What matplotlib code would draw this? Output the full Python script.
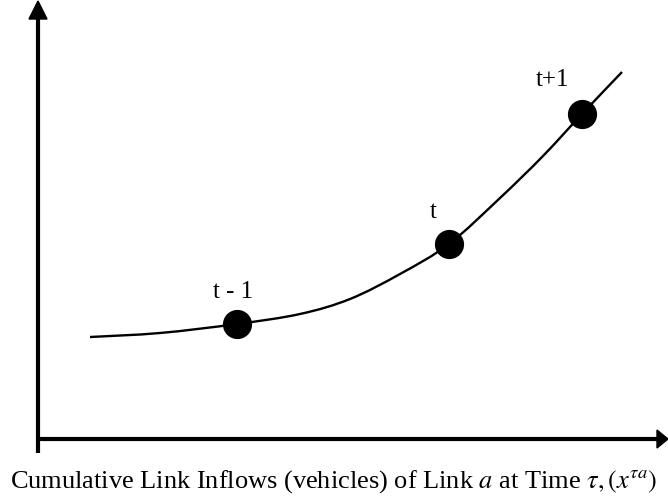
import matplotlib
matplotlib.use("Agg")
import matplotlib.pyplot as plt
from matplotlib.patches import Polygon, PathPatch
from matplotlib.path import Path

# Curve (units: pixels from the axis corner)
curve_x = [52, 122, 199, 262, 312, 362, 411, 462, 505, 544, 584]
curve_y = [102, 106, 115, 125, 140, 165, 195, 241, 283, 325, 367]

# Marked points
point_labels = ["t - 1", "t", "t+1"]
point_x = [199, 411, 544]
point_y = [115, 195, 325]

x_label = r"Cumulative Link Inflows (vehicles) of Link $a$ at Time $\tau,(x^{\tau a})$"

plt.rcParams["font.family"] = ["Liberation Serif", "DejaVu Serif"]
plt.rcParams["mathtext.fontset"] = "stix"

fig = plt.figure(figsize=(6.68, 4.97), dpi=100)
ax = fig.add_axes([0, 0, 1, 1])
ax.set_xlim(-38, 630)
ax.set_ylim(-58, 439)
ax.axis("off")

# axes with arrows
ax.plot([0, 0], [-14, 422], color="black", lw=3.0, solid_capstyle="butt")
ax.add_patch(Polygon([[-9, 420], [9, 420], [0, 438]], closed=True, color="black"))
ax.plot([0, 621], [0, 0], color="black", lw=3.0, solid_capstyle="butt")
ax.add_patch(Polygon([[619, -9], [619, 9], [630, 0]], closed=True, color="black"))

# smooth curve through the read points (Catmull-Rom as cubic Bezier segments)
pts = list(zip(curve_x, curve_y))
verts = [pts[0]]
codes = [Path.MOVETO]
n = len(pts)
for i in range(n - 1):
    p0 = pts[i - 1] if i > 0 else pts[i]
    p1 = pts[i]
    p2 = pts[i + 1]
    p3 = pts[i + 2] if i + 2 < n else pts[i + 1]
    c1 = (p1[0] + (p2[0] - p0[0]) / 6.0, p1[1] + (p2[1] - p0[1]) / 6.0)
    c2 = (p2[0] - (p3[0] - p1[0]) / 6.0, p2[1] - (p3[1] - p1[1]) / 6.0)
    verts += [c1, c2, p2]
    codes += [Path.CURVE4] * 3
ax.add_patch(PathPatch(Path(verts, codes), fill=False, edgecolor="black", lw=1.7))

ax.plot(point_x, point_y, "o", color="black", markersize=20, zorder=3)

label_dx = [-4, -16, -29]
label_dy = [32, 32, 34]
for lab, px, py, dx, dy in zip(point_labels, point_x, point_y, label_dx, label_dy):
    ax.text(px + dx, py + dy, lab, ha="center", va="center", fontsize=18)

ax.text(296, -43, x_label, ha="center", va="center", fontsize=19)

fig.savefig("out.png", dpi=100)
